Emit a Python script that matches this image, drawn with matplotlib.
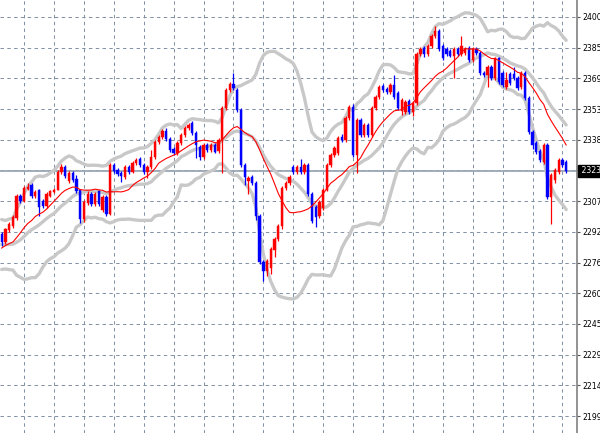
import numpy as np
import matplotlib
matplotlib.use("Agg")
import matplotlib.pyplot as plt
import matplotlib.transforms as mtransforms

# ---------------- data ----------------
history_close = [2300, 2296, 2292, 2298, 2290, 2284, 2280, 2276, 2282, 2288,
                 2279, 2274, 2278, 2285, 2290, 2283, 2288, 2292, 2289, 2285]

opens = [2291, 2287, 2293, 2295, 2299, 2310, 2307.5, 2314, 2316, 2310,
         2313, 2307.5, 2305, 2310, 2312, 2313.5, 2322.5, 2325, 2318, 2322,
         2319, 2313, 2298.5, 2306.5, 2311, 2306, 2312.5, 2303, 2309.5, 2301,
         2326, 2323.5, 2322, 2320, 2325, 2322.5, 2327, 2329, 2326, 2322.5,
         2325, 2330, 2337.5, 2340, 2343, 2339, 2334, 2332, 2337, 2341,
         2344.5, 2347, 2342, 2335, 2330, 2336, 2333.5, 2336, 2333, 2338.5,
         2354.5, 2363.5, 2366.5, 2363.5, 2353.5, 2326, 2318, 2320, 2317, 2300,
         2277, 2272.5, 2274, 2283, 2288.5, 2295, 2314.5, 2317, 2325, 2322.5,
         2325, 2322.5, 2326, 2311, 2304.5, 2300, 2304, 2313.5, 2326, 2331,
         2332, 2340, 2338.5, 2349.5, 2355, 2331, 2348.5, 2341, 2346, 2341,
         2354.5, 2360, 2365.5, 2364, 2362.5, 2366, 2362, 2353, 2352.5, 2358,
         2352.5, 2357, 2382, 2385, 2382, 2386, 2391, 2393.5, 2386, 2384.5,
         2383.5, 2381, 2384.5, 2382, 2382.5, 2385, 2378.5, 2384.5, 2382.5, 2372,
         2371, 2375, 2369.5, 2379.5, 2372, 2365, 2371.5, 2371.5, 2369.5, 2365,
         2372, 2359.5, 2342.5, 2337, 2333, 2327.5, 2336, 2309.5, 2318.5, 2322.5,
         2328.5, 2327.5]

highs = [2292, 2294, 2297, 2300.5, 2311, 2311, 2315.5, 2317, 2317, 2313,
         2314, 2308.5, 2312, 2313.5, 2314.5, 2323.5, 2326.5, 2326, 2323, 2323,
         2321, 2314, 2308, 2312.5, 2312, 2312, 2313.5, 2310.5, 2310.5, 2327,
         2327, 2324.5, 2323, 2326, 2326, 2328, 2329.5, 2330, 2327, 2326,
         2333.5, 2338.5, 2341, 2344, 2344.5, 2340, 2335, 2338, 2342, 2345.5,
         2347, 2348, 2343, 2336, 2337, 2337, 2337, 2337, 2339.5, 2355.5,
         2364.5, 2367.5, 2372, 2364.5, 2354.5, 2327, 2320.5, 2321, 2318, 2301,
         2278, 2278.5, 2284.5, 2289.5, 2296, 2315.5, 2318, 2321, 2326, 2326,
         2329, 2327, 2327, 2312, 2305.5, 2308, 2314.5, 2327, 2332, 2335.5,
         2340.5, 2341.5, 2350.5, 2356, 2356.5, 2349.5, 2349.5, 2347, 2347, 2355.5,
         2361, 2366, 2366.5, 2365, 2367, 2371, 2363, 2359.5, 2358.5, 2359,
         2358, 2383, 2385.5, 2386, 2387, 2392, 2396, 2394.5, 2387, 2385.5,
         2384.5, 2385.5, 2385.5, 2391, 2385.5, 2386, 2385.5, 2385.5, 2383.5, 2373,
         2376, 2376, 2380.5, 2380.5, 2373, 2372.5, 2372.5, 2375, 2370.5, 2373,
         2373, 2360.5, 2343.5, 2338, 2334, 2337, 2337, 2322, 2324.5, 2329.5,
         2329.5, 2328.5]

lows = [2285, 2286, 2292, 2294, 2298, 2306.5, 2307, 2313, 2309, 2309,
        2300, 2304, 2304, 2309.5, 2311.5, 2313, 2321.5, 2319.5, 2317, 2317.5,
        2311.5, 2296.5, 2297, 2305.5, 2305, 2305, 2305, 2302, 2300, 2300.5,
        2322, 2320.5, 2317.5, 2319, 2321.5, 2322, 2326, 2325, 2321.5, 2319.5,
        2324, 2329, 2336.5, 2339, 2338, 2332.5, 2331, 2331, 2336, 2340,
        2343.5, 2341, 2329.5, 2328.5, 2329, 2332.5, 2332.5, 2332, 2332, 2322,
        2353.5, 2362.5, 2363.5, 2352.5, 2325, 2316, 2311, 2316, 2298, 2276,
        2267.5, 2270, 2271, 2279.5, 2287.5, 2293.5, 2313.5, 2316, 2321.5, 2321.5,
        2321.5, 2321.5, 2310, 2296.5, 2294.5, 2299, 2303, 2312.5, 2325, 2330,
        2331, 2337.5, 2337.5, 2348.5, 2330, 2322, 2340, 2340, 2340, 2340,
        2353.5, 2359, 2362.5, 2361.5, 2361.5, 2359, 2353.5, 2351, 2351.5, 2351.5,
        2350.5, 2356, 2381, 2380.5, 2381, 2385, 2390, 2383.5, 2378.5, 2381,
        2380, 2369.5, 2381, 2381, 2381.5, 2377.5, 2377.5, 2381.5, 2371, 2370,
        2365, 2368.5, 2368.5, 2366.5, 2365, 2364, 2366, 2368.5, 2363.5, 2364,
        2358.5, 2341.5, 2334, 2331.5, 2327.5, 2326.5, 2308.5, 2296, 2317, 2321.5,
        2325, 2322]

closes = [2287, 2293.5, 2296, 2299.5, 2310, 2307.5, 2314.5, 2315, 2310, 2312,
          2304.5, 2305, 2311, 2312.5, 2313.5, 2322.5, 2325, 2320.5, 2322, 2318.5,
          2312.5, 2298.5, 2307, 2311, 2306, 2311, 2306, 2309.5, 2301, 2326,
          2323, 2321.5, 2320.5, 2325, 2322.5, 2327, 2328.5, 2326, 2322.5, 2325,
          2330, 2337.5, 2340, 2343, 2339, 2333.5, 2332, 2337, 2341, 2344.5,
          2346, 2342, 2336, 2330, 2336, 2333.5, 2336, 2332.5, 2338.5, 2354.5,
          2363.5, 2366.5, 2364.5, 2353.5, 2326, 2320, 2319.5, 2317, 2300, 2277,
          2272.5, 2277.5, 2283.5, 2288.5, 2295, 2314.5, 2317, 2320, 2322.5, 2325,
          2322.5, 2326, 2311, 2297.5, 2299.5, 2307, 2313.5, 2326, 2331, 2334.5,
          2339.5, 2338.5, 2349.5, 2355, 2331, 2348.5, 2341, 2346, 2341, 2354.5,
          2360, 2365, 2363.5, 2362.5, 2366, 2360, 2354.5, 2358.5, 2357.5, 2352.5,
          2357, 2382, 2384.5, 2382, 2386, 2391, 2393.5, 2384.5, 2379.5, 2382,
          2381, 2384.5, 2382, 2386, 2384.5, 2378.5, 2384.5, 2382.5, 2372, 2371,
          2375, 2369.5, 2379.5, 2367.5, 2366, 2368.5, 2367, 2369.5, 2364.5, 2372,
          2359.5, 2342.5, 2336, 2332.5, 2328.5, 2336, 2309.5, 2321, 2323.5, 2328.5,
          2326, 2323]

price_labels = ["2199", "2214", "2229", "2245", "2260", "2276", "2292",
                "2307", "2323", "2338", "2353", "2369", "2385", "2400"]
grid_low, grid_high = 2199.4, 2400.4

bb_period, bb_dev = 20, 2.0
ma_period = 14

# ---------------- figure ----------------
W, H = 600, 433
fig = plt.figure(figsize=(W / 100, H / 100), dpi=100)
fig.patch.set_facecolor("white")
ax = fig.add_axes([0, 0, 577 / W, 1])
ax.set_facecolor("white")

o = np.array(opens, float)
h = np.array(highs, float)
l = np.array(lows, float)
c = np.array(closes, float)
n = len(c)
x = np.arange(n)

# indicators
allc = np.concatenate([np.array(history_close, float), c])
nh = len(history_close)
mid = np.array([allc[i - bb_period + 1:i + 1].mean() for i in range(nh, nh + n)])
sd = np.array([allc[i - bb_period + 1:i + 1].std() for i in range(nh, nh + n)])
ma = np.array([allc[i - ma_period + 1:i + 1].mean() for i in range(nh, nh + n)])

band_col = "#c8c8c8"
for band in (mid + bb_dev * sd, mid, mid - bb_dev * sd):
    ax.plot(x, band, color=band_col, lw=2.4, zorder=2, solid_capstyle="round")

# current price line
ax.axhline(c[-1], color="#9ba7b6", lw=1.3, zorder=1.6)

# candles
up = c >= o
cols = np.where(up, "#ff0000", "#0000ff")
ax.vlines(x, l, h, colors=cols, lw=0.9, zorder=3)
body_lo = np.minimum(o, c)
body_h = np.maximum(np.abs(c - o), 0.6)
ax.bar(x, body_h, bottom=body_lo, width=0.62, color=cols, edgecolor=cols,
       linewidth=0.3, zorder=4)

ax.plot(x, ma, color="#ff0000", lw=0.8, zorder=5)

# axes limits (bar spacing ~3.74 px)
ax.set_xlim(-0.45, 153.9)
ppu = (416 - 17) / (grid_high - grid_low)
ax.set_ylim(grid_low - (H - 416) / ppu, grid_high + 17 / ppu)

# grid / ticks
ax.set_xticks(np.arange(6, n + 2, 8))
ax.tick_params(axis="x", length=0, labelbottom=False)
yt = np.linspace(grid_low, grid_high, len(price_labels))
ax.set_yticks(yt)
ax.set_yticklabels(price_labels)
ax.yaxis.tick_right()
ax.tick_params(axis="y", length=2.5, width=0.8, color="#555555", pad=1.5,
               labelsize=5.6, labelcolor="black")
ax.grid(True, color="#7f90a6", lw=0.7, linestyle=(0, (3.5, 3.5)), zorder=1)
ax.set_axisbelow(True)

for s in ["top", "left", "bottom"]:
    ax.spines[s].set_visible(False)
ax.spines["right"].set_color("#808080")
ax.spines["right"].set_linewidth(1.2)

# current price label (covers the grid label at the same level)
price_txt = f"{int(c[-1])}"
for tl in ax.get_yticklabels():
    if tl.get_text() == price_txt:
        tl.set_visible(False)
trans = mtransforms.blended_transform_factory(ax.transAxes, ax.transData)
ax.text(1.004, c[-1], " " + price_txt + " ", transform=trans, ha="left",
        va="center", fontsize=5.6, color="white", clip_on=False, zorder=10,
        bbox=dict(facecolor="black", edgecolor="black", pad=1.2))

fig.savefig("out.png", dpi=100)
